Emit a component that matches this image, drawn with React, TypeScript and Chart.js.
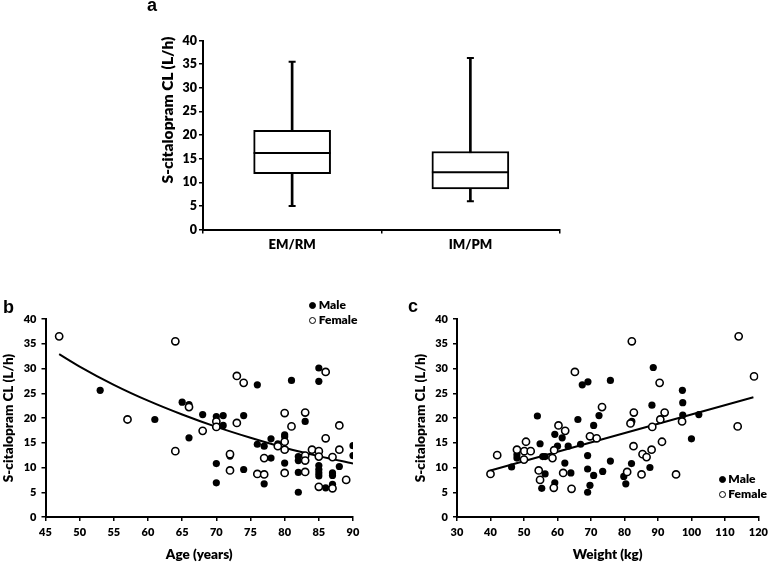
import React, { useEffect, useRef } from "react";
import { Chart, registerables } from "chart.js";

Chart.register(...registerables);
Chart.defaults.font.family = "Lato, 'DejaVu Sans', sans-serif";

// ---- Panel a: box plot by phenotype ----
const genotypes = ["EM/RM", "IM/PM"];
const boxMin = [5.0, 6.0];
const boxQ1 = [11.8, 8.6];
const boxMedian = [16.2, 12.1];
const boxQ3 = [21.0, 16.5];
const boxMax = [35.5, 36.3];

// ---- Panel b: CL vs age ----
const ageMale: [number, number][] = [
  [53, 25.6], [61, 19.7], [65, 23.2], [66, 22.7], [66, 16.0], [68, 20.7], [70, 20.3], [70, 10.8], [70, 6.9],
  [71, 20.5], [71, 18.5], [72, 12.3], [74, 20.5], [74, 9.6], [76, 26.7], [76, 14.7], [77, 14.3], [77, 6.7],
  [78, 15.8], [78, 11.9], [79, 14.8], [80, 16.6], [80, 16.2], [80, 10.9], [81, 27.6], [82, 12.2], [82, 11.4],
  [82, 9.0], [82, 5.0], [83, 19.3], [85, 30.1], [85, 27.4], [85, 10.4], [85, 9.6], [85, 8.9], [85, 8.3],
  [86, 5.9], [87, 8.9], [87, 8.4], [87, 6.6], [88, 10.2], [90, 14.4], [90, 12.4],
];
const ageFemale: [number, number][] = [
  [47, 36.5], [57, 19.7], [64, 35.5], [64, 13.3], [66, 22.2], [68, 17.4], [70, 19.3], [70, 18.2], [72, 12.7],
  [72, 9.4], [73, 28.5], [73, 19.0], [74, 27.1], [76, 8.7], [77, 8.6], [77, 11.9], [79, 14.3], [80, 21.0],
  [80, 15.2], [80, 13.6], [80, 8.9], [81, 18.3], [83, 21.1], [83, 12.4], [83, 11.4], [83, 9.1], [84, 13.6],
  [85, 13.3], [85, 12.2], [85, 6.1], [86, 29.3], [86, 15.9], [87, 12.1], [87, 5.8], [88, 18.5], [88, 13.6],
  [89, 7.5],
];
const ageFit: [number, number][] = [
  [47, 32.9], [50, 30.4], [55, 26.7], [60, 23.5], [65, 20.7], [70, 18.2], [75, 16.0], [80, 14.0], [85, 12.3], [90, 10.8],
];

// ---- Panel c: CL vs weight ----
const weightMale: [number, number][] = [
  [46.3, 10.1], [47.9, 12.6], [47.9, 11.9], [54.0, 20.4], [54.8, 14.8], [55.6, 12.2], [56.3, 12.2], [56.3, 8.7],
  [55.3, 5.8], [59.2, 16.7], [59.2, 6.9], [60.0, 14.3], [61.4, 16.0], [62.2, 10.9], [63.2, 14.3], [64.0, 8.9],
  [66.1, 19.7], [66.9, 14.7], [67.4, 26.7], [69.1, 27.3], [69.0, 12.4], [69.0, 9.7], [69.0, 5.0], [69.7, 6.4],
  [70.8, 18.5], [70.8, 8.4], [72.4, 20.5], [73.5, 9.2], [75.8, 27.6], [75.8, 11.3], [79.8, 8.2], [80.4, 6.7],
  [82.1, 10.8], [82.2, 19.3], [87.6, 10.0], [88.2, 22.6], [88.6, 30.2], [97.3, 25.6], [97.4, 23.1], [97.4, 20.6],
  [100.0, 15.8], [102.2, 20.7],
];
const weightFemale: [number, number][] = [
  [40.0, 8.7], [42.0, 12.5], [47.9, 13.6], [50.6, 15.2], [50.1, 13.3], [52.0, 13.3], [50.0, 11.6], [54.4, 9.4],
  [54.8, 7.5], [58.5, 11.9], [59.0, 13.5], [58.9, 5.9], [60.3, 18.5], [62.3, 17.4], [61.7, 8.9], [64.2, 5.7],
  [65.2, 29.3], [69.7, 16.3], [71.7, 15.9], [73.3, 22.2], [80.8, 9.1], [81.8, 18.9], [82.2, 35.5], [82.8, 21.1],
  [82.7, 14.3], [85.1, 8.6], [85.4, 12.7], [86.6, 12.1], [88.1, 13.6], [88.3, 18.2], [90.5, 27.1], [90.7, 19.7],
  [91.2, 15.2], [92.0, 21.1], [95.4, 8.6], [97.2, 19.3], [113.8, 18.3], [114.1, 36.5], [118.7, 28.4],
];
const weightFit: [number, number][] = [
  [40, 9.4], [118.5, 24.2],
];

const yTitle = "S-citalopram CL (L/h)";
const BLACK = "#000";
const W = 800; // heavy weight to mimic the bold source font

const toXY = (arr: [number, number][]) => arr.map(([x, y]) => ({ x, y }));

function axisStyle(fontSize: number, tickPad: number) {
  return {
    grid: { display: true, drawOnChartArea: false, drawTicks: true, tickLength: 4, color: BLACK, lineWidth: 1.5 },
    border: { display: true, color: BLACK, width: 2 },
    ticks: { color: BLACK, font: { size: fontSize, weight: W }, padding: tickPad },
  };
}

function useChart(ref: React.RefObject<HTMLCanvasElement | null>, makeConfig: () => any) {
  useEffect(() => {
    if (!ref.current) return;
    const chart = new Chart(ref.current, makeConfig());
    return () => chart.destroy();
  }, []);
}

function PanelA() {
  const ref = useRef<HTMLCanvasElement>(null);
  useChart(ref, () => ({
    type: "bar",
    data: {
      labels: genotypes,
      datasets: [
        {
          type: "line", data: boxMedian, showLine: false, pointStyle: "line",
          pointRadius: 38.5, pointHoverRadius: 38.5, borderColor: BLACK, borderWidth: 2,
        },
        {
          type: "bar", data: genotypes.map((_, i) => [boxQ1[i], boxQ3[i]]),
          backgroundColor: "#fff", borderColor: BLACK, borderWidth: 2, borderSkipped: false,
          barThickness: 77, grouped: false,
        },
        {
          type: "bar", data: genotypes.map((_, i) => [boxMin[i], boxMax[i]]),
          backgroundColor: BLACK, borderWidth: 0, barThickness: 2, grouped: false,
        },
        {
          type: "line", data: boxMin, showLine: false, pointStyle: "line",
          pointRadius: 3.5, pointHoverRadius: 3.5, borderColor: BLACK, borderWidth: 2,
        },
        {
          type: "line", data: boxMax, showLine: false, pointStyle: "line",
          pointRadius: 3.5, pointHoverRadius: 3.5, borderColor: BLACK, borderWidth: 2,
        },
      ],
    },
    options: {
      animation: false,
      responsive: false,
      layout: { padding: { left: 0, right: 15, top: 6, bottom: 0 } },
      plugins: { legend: { display: false }, tooltip: { enabled: false } },
      scales: {
        x: {
          ...axisStyle(13, 4),
          grid: { display: true, drawOnChartArea: false, tickLength: 4, color: BLACK, lineWidth: 1.5, offset: true },
          afterFit: (s: any) => { s.height = 34; },
        },
        y: {
          ...axisStyle(12.5, 2),
          min: 0, max: 40,
          ticks: { stepSize: 5, color: BLACK, font: { size: 12.5, weight: W }, padding: 2 },
          afterFit: (s: any) => { s.width = 63; },
        },
      },
    },
  }));
  return <canvas ref={ref} width={460} height={270} style={{ position: "absolute", left: 140, top: 0, width: 460, height: 270 }} />;
}

function scatterConfig(
  male: [number, number][], female: [number, number][], fit: [number, number][],
  xMin: number, xMax: number, xStep: number, xTitle: string,
  padRight: number, yWidth: number, yTitlePad: number,
) {
  return {
    type: "scatter",
    data: {
      datasets: [
        {
          label: "Female", data: toXY(female), pointRadius: 3.6, pointHoverRadius: 3.6,
          backgroundColor: "#fff", borderColor: BLACK, borderWidth: 1.6,
        },
        {
          label: "Male", data: toXY(male), pointRadius: 3.6, pointHoverRadius: 3.6,
          backgroundColor: BLACK, borderColor: BLACK, borderWidth: 0,
        },
        {
          type: "line", label: "fit", data: toXY(fit), showLine: true, pointRadius: 0,
          borderColor: BLACK, borderWidth: 2, cubicInterpolationMode: "monotone", fill: false,
        },
      ],
    },
    options: {
      animation: false,
      responsive: false,
      layout: { padding: { left: 0, right: padRight, top: 39, bottom: 0 } },
      plugins: { legend: { display: false }, tooltip: { enabled: false } },
      scales: {
        x: {
          type: "linear",
          ...axisStyle(11, 5),
          min: xMin, max: xMax,
          ticks: { stepSize: xStep, color: BLACK, font: { size: 11, weight: W }, padding: 5 },
          title: { display: true, text: xTitle, color: BLACK, font: { size: 13.5, weight: W }, padding: { top: 0, bottom: 1 } },
          afterFit: (s: any) => { s.height = 47; },
        },
        y: {
          type: "linear",
          ...axisStyle(11, 5),
          min: 0, max: 40,
          ticks: { stepSize: 5, color: BLACK, font: { size: 11, weight: W }, padding: 5 },
          title: { display: true, text: yTitle, color: BLACK, font: { size: 13.5, weight: W }, padding: { top: yTitlePad, bottom: 0 } },
          afterFit: (s: any) => { s.width = yWidth; },
        },
      },
    },
  };
}

function PanelB() {
  const ref = useRef<HTMLCanvasElement>(null);
  useChart(ref, () => scatterConfig(ageMale, ageFemale, ageFit, 45, 90, 5, "Age (years)", 37, 45.5, 1));
  return <canvas ref={ref} width={390} height={284} style={{ position: "absolute", left: 0, top: 280, width: 390, height: 284 }} />;
}

function PanelC() {
  const ref = useRef<HTMLCanvasElement>(null);
  useChart(ref, () => scatterConfig(weightMale, weightFemale, weightFit, 30, 120, 10, "Weight (kg)", 12, 67, 23));
  return <canvas ref={ref} width={383} height={284} style={{ position: "absolute", left: 390, top: 280, width: 383, height: 284 }} />;
}

function LegendItem({ cx, cy, filled, text }: { cx: number; cy: number; filled: boolean; text: string }) {
  return (
    <>
      <div
        style={{
          position: "absolute", left: cx - 3.5, top: cy - 3.5, width: 7, height: 7, borderRadius: "50%",
          boxSizing: "border-box", background: filled ? BLACK : "#fff", border: `1.6px solid ${BLACK}`,
        }}
      />
      <div
        style={{
          position: "absolute", left: cx + 6, top: cy - 8, height: 16, lineHeight: "16px",
          fontFamily: "Lato, sans-serif", fontWeight: W, fontSize: 12, color: BLACK, whiteSpace: "nowrap",
        }}
      >
        {text}
      </div>
    </>
  );
}

function PanelLetter({ x, y, t }: { x: number; y: number; t: string }) {
  return (
    <div
      style={{
        position: "absolute", left: x, top: y, lineHeight: "18px", height: 18,
        fontFamily: "'Liberation Sans', Arial, sans-serif", fontWeight: 700, fontSize: 18, color: BLACK,
      }}
    >
      {t}
    </div>
  );
}

function RotatedTitle({ cx, cy, size, text }: { cx: number; cy: number; size: number; text: string }) {
  return (
    <div
      style={{
        position: "absolute", left: cx, top: cy, transform: "translate(-50%, -50%) rotate(-90deg)",
        fontFamily: "Lato, sans-serif", fontWeight: W, fontSize: size, color: BLACK, whiteSpace: "nowrap",
        lineHeight: 1,
      }}
    >
      {text}
    </div>
  );
}

export default function App() {
  return (
    <div style={{ position: "absolute", left: 0, top: 0, width: 773, height: 564, background: "#fff", overflow: "hidden" }}>
      <PanelA />
      <PanelB />
      <PanelC />
      <RotatedTitle cx={168} cy={110} size={15.5} text={yTitle} />
      <PanelLetter x={147} y={-4} t="a" />
      <PanelLetter x={3} y={298} t="b" />
      <PanelLetter x={408} y={297} t="c" />
      <LegendItem cx={312.7} cy={305} filled={true} text="Male" />
      <LegendItem cx={312.7} cy={320} filled={false} text="Female" />
      <LegendItem cx={722.3} cy={479} filled={true} text="Male" />
      <LegendItem cx={722.3} cy={494.3} filled={false} text="Female" />
    </div>
  );
}
